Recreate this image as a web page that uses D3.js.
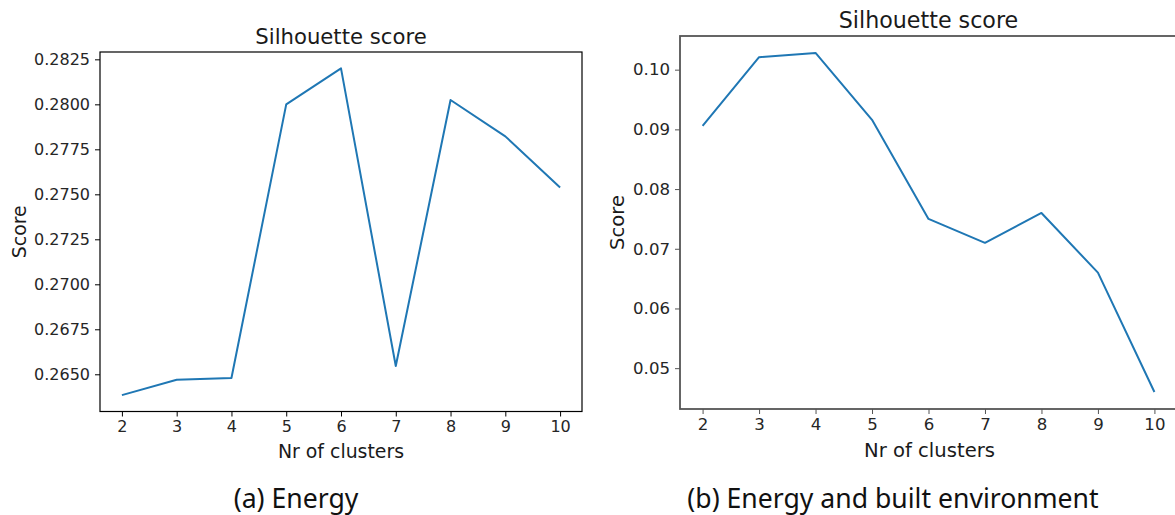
<!DOCTYPE html>
<html>
<head>
<meta charset="utf-8">
<script src="https://cdn.jsdelivr.net/npm/d3@7"></script>
<style>
  body { margin: 0; background: #fff; }
  svg { display: block; }
</style>
</head>
<body>
<svg id="canvas" width="1175" height="515"></svg>
<script>
let clusters = [2, 3, 4, 5, 6, 7, 8, 9, 10]

let energyScores = [0.26384, 0.26470, 0.26479, 0.28000, 0.28200, 0.26546, 0.28024, 0.27822, 0.27538]
let builtEnvScores = [0.0906, 0.1021, 0.1028, 0.0916, 0.0750, 0.0710, 0.0760, 0.0660, 0.0460]

let energyTicks = [0.2650, 0.2675, 0.2700, 0.2725, 0.2750, 0.2775, 0.2800, 0.2825]
let builtEnvTicks = [0.05, 0.06, 0.07, 0.08, 0.09, 0.10]

let titleText = "Silhouette score"
let xLabelText = "Nr of clusters"
let yLabelText = "Score"
let captions = ["(a) Energy", "(b) Energy and built environment"]

let canvas = d3.select("#canvas")

let drawPanel = (opt) => {
    let g = canvas.append("g")

    // matplotlib style: 5% margin around the data
    let xPad = (d3.max(clusters) - d3.min(clusters)) * 0.05
    let x = d3.scaleLinear()
        .domain([d3.min(clusters) - xPad, d3.max(clusters) + xPad])
        .range([opt.left, opt.right])

    let ext = d3.extent(opt.values)
    let yPad = (ext[1] - ext[0]) * 0.05
    let y = d3.scaleLinear()
        .domain([ext[0] - yPad, ext[1] + yPad])
        .range([opt.bottom, opt.top])

    g.append("g")
        .attr("transform", "translate(0," + opt.bottom + ")")
        .call(d3.axisBottom(x).tickValues(clusters).tickFormat(d3.format("d"))
            .tickSize(5).tickPadding(4))

    g.append("g")
        .attr("transform", "translate(" + opt.left + ",0)")
        .call(d3.axisLeft(y).tickValues(opt.ticks).tickFormat(d3.format(opt.fmt))
            .tickSize(5).tickPadding(5))

    g.selectAll(".domain").remove()
    g.selectAll(".tick line").attr("stroke", opt.spine).attr("stroke-width", 1)
    g.selectAll(".tick text")
        .attr("fill", "#262626")
        .style("font-family", "DejaVu Sans")
        .style("font-size", opt.tickSize + "px")

    // frame
    g.append("rect")
        .attr("x", opt.left)
        .attr("y", opt.top)
        .attr("width", opt.right - opt.left)
        .attr("height", opt.bottom - opt.top)
        .attr("fill", "none")
        .attr("stroke", opt.spine)
        .attr("stroke-width", opt.spineWidth)

    let line = d3.line()
        .x((d, i) => x(clusters[i]))
        .y((d) => y(d))

    g.append("path")
        .datum(opt.values)
        .attr("d", line)
        .attr("fill", "none")
        .attr("stroke", "#1f77b4")
        .attr("stroke-width", 2)
        .attr("stroke-linejoin", "round")

    g.append("text")
        .attr("x", opt.titleX)
        .attr("y", opt.titleY)
        .attr("text-anchor", "middle")
        .attr("fill", "#1a1a1a")
        .style("font-family", "DejaVu Sans")
        .style("font-size", opt.titleSize + "px")
        .text(titleText)

    g.append("text")
        .attr("x", opt.xLabelX)
        .attr("y", opt.xLabelY)
        .attr("text-anchor", "middle")
        .attr("fill", "#1a1a1a")
        .style("font-family", "DejaVu Sans")
        .style("font-size", opt.labelSize + "px")
        .text(xLabelText)

    g.append("text")
        .attr("transform", "translate(" + opt.yLabelX + "," + ((opt.top + opt.bottom) / 2) + ") rotate(-90)")
        .attr("text-anchor", "middle")
        .attr("fill", "#1a1a1a")
        .style("font-family", "DejaVu Sans")
        .style("font-size", opt.labelSize + "px")
        .text(yLabelText)

    g.append("text")
        .attr("x", opt.captionX)
        .attr("y", 508)
        .attr("text-anchor", "middle")
        .attr("fill", "#111")
        .style("font-family", "Noto Sans")
        .style("font-size", "26.6px")
        .text(opt.caption)
}

drawPanel({
    values: energyScores, ticks: energyTicks, fmt: ".4f",
    left: 100, right: 582, top: 52, bottom: 411.5,
    spine: "#000", spineWidth: 1.2,
    tickSize: 16, labelSize: 18.9, titleSize: 21.2,
    titleX: 341, titleY: 44, xLabelX: 341, xLabelY: 458, yLabelX: 26,
    captionX: 296, caption: captions[0]
})

drawPanel({
    values: builtEnvScores, ticks: builtEnvTicks, fmt: ".2f",
    left: 680, right: 1177, top: 36, bottom: 409,
    spine: "#555", spineWidth: 1.8,
    tickSize: 16.6, labelSize: 19.6, titleSize: 22.2,
    titleX: 928.5, titleY: 28, xLabelX: 929.5, xLabelY: 457, yLabelX: 624,
    captionX: 893, caption: captions[1]
})
</script>
</body>
</html>
